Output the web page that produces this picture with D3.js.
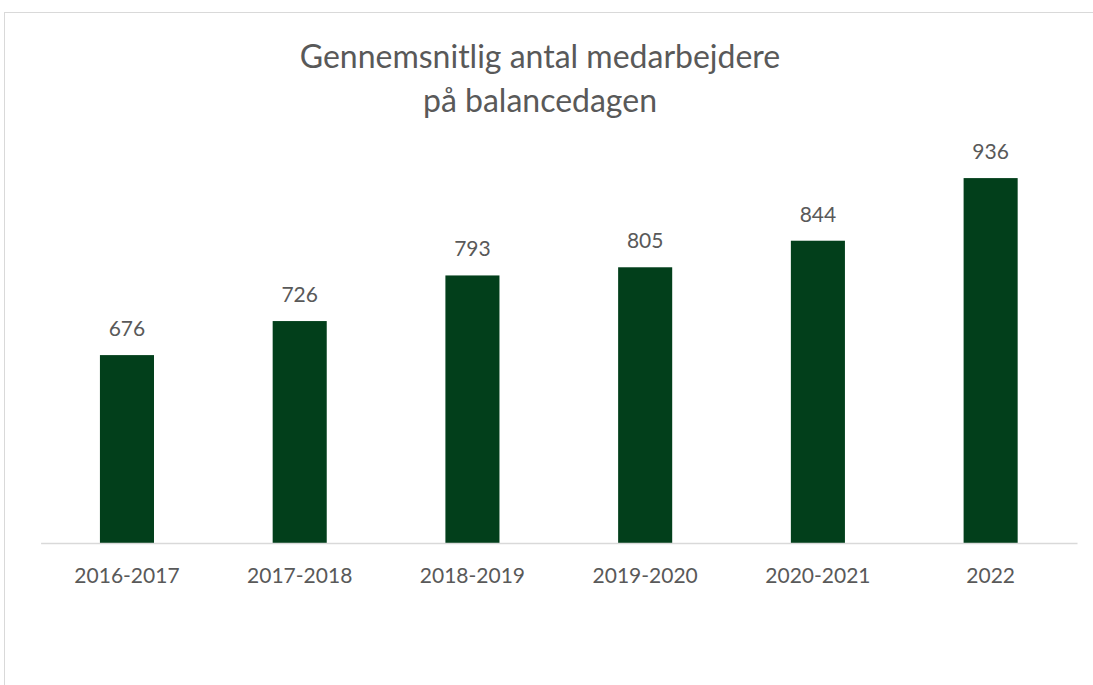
<!DOCTYPE html>
<html><head><meta charset="utf-8">
<script src="https://cdn.jsdelivr.net/npm/d3@7"></script>
<style>body{margin:0;background:#fff}svg{display:block}</style>
</head><body>
<svg id="c" width="1093" height="685"></svg>
<script>
const categories = ["2016-2017","2017-2018","2018-2019","2019-2020","2020-2021","2022"];
const values = [676, 726, 793, 805, 844, 936];
const titleLines = ["Gennemsnitlig antal medarbejdere", "på balancedagen"];
const yDomain = [400, 1000];

const svg = d3.select("#c");
const font = "Lato, 'Open Sans', sans-serif";
const textColor = "#595959";

// chart area border
svg.append("rect").attr("x",4.5).attr("y",12.5).attr("width",1100).attr("height",700)
  .attr("fill","#fff").attr("stroke","#d9d9d9").attr("stroke-width",1);

const left = 40.6, right = 1077, base = 543;
const x = d3.scaleBand().domain(categories).range([left, right]).paddingInner(0.687).paddingOuter(0.3435);
const y = d3.scaleLinear().domain(yDomain).range([base, base - 600*0.6808]);

svg.append("g").selectAll("rect").data(values).join("rect")
  .attr("x",(d,i)=>x(categories[i])).attr("width",x.bandwidth())
  .attr("y",d=>y(d)).attr("height",d=>base-y(d)).attr("fill","#023f1b");

svg.append("g").selectAll("text").data(values).join("text")
  .attr("x",(d,i)=>x(categories[i])+x.bandwidth()/2).attr("y",d=>y(d)-19)
  .attr("text-anchor","middle").attr("font-family",font).attr("font-size",21)
  .attr("fill",textColor).text(d=>d);

const ax = svg.append("g").attr("transform",`translate(0,${base})`)
  .call(d3.axisBottom(x).tickSize(0).tickPadding(0).tickSizeOuter(0));
ax.select(".domain").attr("stroke","#d9d9d9").attr("stroke-width",1.5);
ax.selectAll("text").attr("font-family",font).attr("font-size",21).attr("fill",textColor)
  .attr("dy",null).attr("y",40);

svg.append("g").selectAll("text").data(titleLines).join("text")
  .attr("x",540).attr("y",(d,i)=>68+i*44).attr("text-anchor","middle")
  .attr("font-family",font).attr("font-size",32).attr("fill",textColor).text(d=>d);
</script>
</body></html>
